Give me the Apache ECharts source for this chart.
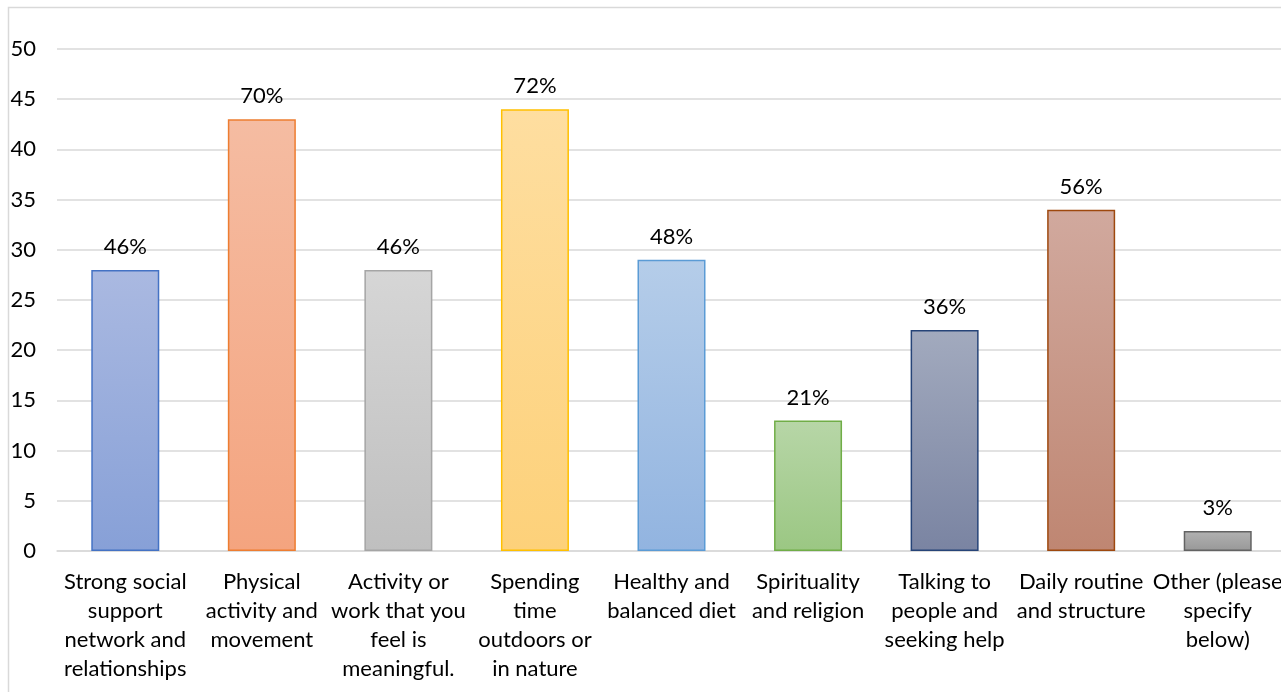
<!DOCTYPE html>
<html>
<head>
<meta charset="utf-8">
<script src="https://cdn.jsdelivr.net/npm/echarts@6/dist/echarts.min.js"></script>
<style>
html,body{margin:0;padding:0;background:#fff;}
#chart{width:1281px;height:692px;}
</style>
</head>
<body>
<div id="chart"></div>
<script>
const categories = [
  "Strong social\nsupport\nnetwork and\nrelationships",
  "Physical\nactivity and\nmovement",
  "Activity or\nwork that you\nfeel is\nmeaningful.",
  "Spending\ntime\noutdoors or\nin nature",
  "Healthy and\nbalanced diet",
  "Spirituality\nand religion",
  "Talking to\npeople and\nseeking help",
  "Daily routine\nand structure",
  "Other (please\nspecify\nbelow)"
];
const counts = [28, 43, 28, 44, 29, 13, 22, 34, 2];
const percentLabels = ["46%", "70%", "46%", "72%", "48%", "21%", "36%", "56%", "3%"];
const yTicks = [0, 5, 10, 15, 20, 25, 30, 35, 40, 45, 50];

const palette = [
  {top:"#aab9e1", bottom:"#87a0d7", border:"#4472c4"},
  {top:"#f5bca2", bottom:"#f4a47f", border:"#ed7d31"},
  {top:"#d6d6d6", bottom:"#bfbfbf", border:"#a5a5a5"},
  {top:"#fedea0", bottom:"#fdd17a", border:"#ffc000"},
  {top:"#b5cde9", bottom:"#92b4e0", border:"#5b9bd5"},
  {top:"#b7d6a7", bottom:"#9bc783", border:"#70ad47"},
  {top:"#a2aabe", bottom:"#7a84a2", border:"#264478"},
  {top:"#d1a99e", bottom:"#bf8672", border:"#9e480e"},
  {top:"#b2b2b2", bottom:"#989898", border:"#636363"}
];

const font = "Lato, 'Open Sans', sans-serif";
const chart = echarts.init(document.getElementById('chart'), null, {renderer:'canvas'});
chart.setOption({
  animation: false,
  backgroundColor: '#fff',
  graphic: [{
    type: 'rect', left: 6, top: 5, silent: true,
    shape: {x: 0, y: 0, width: 1400, height: 800},
    style: {fill: 'none', stroke: '#d9d9d9', lineWidth: 1.5}
  }],
  grid: {left: 57, width: 1229, top: 49, bottom: 141, containLabel: false, outerBoundsMode: 'none'},
  xAxis: {
    type: 'category',
    data: categories,
    axisTick: {show: false},
    axisLine: {show: true, lineStyle: {color: '#d9d9d9', width: 1.5}},
    axisLabel: {
      interval: 0, color: '#000', fontFamily: font, fontSize: 22,
      lineHeight: 29, margin: 16, align: 'center'
    }
  },
  yAxis: {
    type: 'value', min: yTicks[0], max: yTicks[yTicks.length-1], interval: 5,
    axisLine: {show: false}, axisTick: {show: false},
    splitLine: {lineStyle: {color: '#d9d9d9', width: 1.5}},
    axisLabel: {color: '#000', fontFamily: font, fontSize: 22, margin: 21}
  },
  series: [{
    type: 'bar',
    barWidth: 68,
    data: counts.map((v, i) => ({
      value: v,
      itemStyle: {
        color: new echarts.graphic.LinearGradient(0, 0, 0, 1, [
          {offset: 0, color: palette[i].top},
          {offset: 1, color: palette[i].bottom}
        ]),
        borderColor: palette[i].border,
        borderWidth: 1.5
      }
    })),
    label: {
      show: true, position: 'top', distance: 12,
      color: '#000', fontFamily: font, fontSize: 22,
      formatter: p => percentLabels[p.dataIndex]
    }
  }]
});
</script>
</body>
</html>
